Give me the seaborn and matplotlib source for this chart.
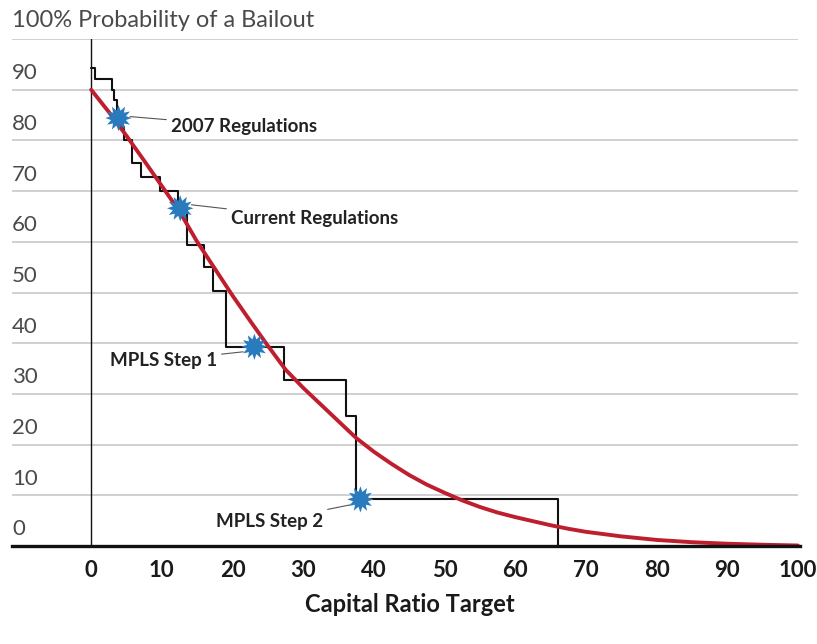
import numpy as np
import pandas as pd
import matplotlib
matplotlib.use("Agg")
import matplotlib.pyplot as plt
from matplotlib.path import Path
from matplotlib.transforms import blended_transform_factory
import seaborn as sns

# ---------------- data ----------------
curve_x = [0, 2.5, 5, 7.5, 10, 12.5, 15, 17.5, 20, 22.5, 25, 27.5, 30, 32.5, 35,
           37.5, 40, 42.5, 45, 47.5, 50, 52.5, 55, 57.5, 60, 62.5, 65, 67.5, 70,
           75, 80, 85, 90, 95, 100]
curve_y = [90.0, 85.6, 80.9, 76.0, 71.0, 66.0, 60.0, 54.7, 49.4, 44.4, 39.5, 34.8,
           31.2, 27.9, 24.6, 21.3, 18.6, 16.2, 14.0, 12.1, 10.5, 9.0, 7.7, 6.6,
           5.7, 4.9, 4.1, 3.4, 2.8, 1.9, 1.2, 0.75, 0.45, 0.25, 0.1]

step_x = [0, 0.5, 3.0, 3.3, 3.6, 4.0, 4.3, 4.6, 5.75, 7.0, 9.7, 12.35, 13.5,
          15.9, 17.3, 19.05, 27.3, 36.1, 37.5, 66.0]
step_y = [94.3, 92.2, 90.0, 88.0, 86.0, 84.0, 82.7, 80.1, 75.5, 72.8, 70.0, 66.8,
          59.4, 55.1, 50.2, 39.3, 32.7, 25.7, 9.3, 0.0]

point_names = ["2007 Regulations", "Current Regulations", "MPLS Step 1", "MPLS Step 2"]
point_x = [3.87, 12.6, 23.1, 38.1]
point_y = [84.4, 66.6, 39.3, 9.2]

x_ticks = [0, 10, 20, 30, 40, 50, 60, 70, 80, 90, 100]
y_ticks = [0, 10, 20, 30, 40, 50, 60, 70, 80, 90]
title_text = "100% Probability of a Bailout"
x_label = "Capital Ratio Target"

# ---------------- style ----------------
sns.set_style("white")
plt.rcParams["font.family"] = ["Lato", "DejaVu Sans"]

fig = plt.figure(figsize=(8.17, 6.44), dpi=100)
ax = fig.add_axes([12 / 817, 1 - 546 / 644, 788 / 817, 507 / 644])
ax.set_xlim(-11.2, 100.3)
ax.set_ylim(0, 100)

# gridlines
for v in y_ticks[1:] + [100]:
    ax.plot([-11.2, 100], [v, v], color="#c4c4c4", lw=1.1, zorder=1,
            solid_capstyle="butt")

# vertical axis at x=0
ax.plot([0, 0], [0, 100], color="#111111", lw=1.0, zorder=2)

curve_df = pd.DataFrame({"x": curve_x, "y": curve_y})
step_df = pd.DataFrame({"x": step_x, "y": step_y})
pts_df = pd.DataFrame({"x": point_x, "y": point_y, "name": point_names})

sns.lineplot(data=step_df, x="x", y="y", ax=ax, color="#111111", lw=1.5,
             drawstyle="steps-post", estimator=None, sort=False, zorder=3)
sns.lineplot(data=curve_df, x="x", y="y", ax=ax, color="#bf1e2e", lw=2.8,
             estimator=None, sort=False, zorder=4, clip_on=False)

# star-burst marker
n = 12
ang = np.linspace(0, 2 * np.pi, 2 * n + 1)
rad = np.where(np.arange(2 * n + 1) % 2 == 0, 1.0, 0.58)
verts = np.column_stack([rad * np.sin(ang), rad * np.cos(ang)])
burst = Path(verts, closed=True)

sns.scatterplot(data=pts_df, x="x", y="y", ax=ax, marker=burst, s=360,
                color="#2a7bbd", edgecolor="none", zorder=6, legend=False)

# annotations
ann = [
    ("2007 Regulations", (5.5, 84.7), (11.3, 82.8), "left"),
    ("Current Regulations", (14.2, 67.3), (19.8, 64.5), "left"),
    ("MPLS Step 1", (21.5, 38.3), (17.8, 36.6), "right"),
    ("MPLS Step 2", (36.6, 8.1), (32.8, 4.9), "right"),
]
for name, xy, xyt, ha in ann:
    ax.annotate(name, xy=xy, xytext=xyt, ha=ha, va="center",
                fontsize=13.5, fontweight="bold", color="#222222",
                arrowprops=dict(arrowstyle="-", color="#555555", lw=0.8,
                                shrinkA=1, shrinkB=0),
                zorder=5)

# axes styling
for s in ["left", "top", "right"]:
    ax.spines[s].set_visible(False)
ax.spines["bottom"].set_color("#111111")
ax.spines["bottom"].set_linewidth(2.4)
ax.spines["bottom"].set_zorder(7)
ax.set_xticks(x_ticks)
ax.set_xticklabels([str(t) for t in x_ticks], fontsize=16, fontweight="bold",
                   color="#1a1a1a")
ax.tick_params(axis="x", direction="in", length=9, width=1.0, color="#111111",
               pad=10)
ax.set_yticks([])
ax.set_xlabel("")
ax.set_ylabel("")

trans = blended_transform_factory(ax.transAxes, ax.transData)
for v in y_ticks:
    ax.text(0.0, v + 1.3, str(v), transform=trans, ha="left", va="bottom",
            fontsize=16, fontweight="normal", color="#4a4a4a")
ax.text(0.0, 101.6, title_text, transform=trans, ha="left", va="bottom",
        fontsize=17, fontweight="normal", color="#4a4a4a")

fig.text(410 / 817, 1 - 604 / 644, x_label, ha="center", va="center",
         fontsize=17, fontweight="bold", color="#1a1a1a")

fig.savefig("out.png", dpi=100, facecolor="white")
